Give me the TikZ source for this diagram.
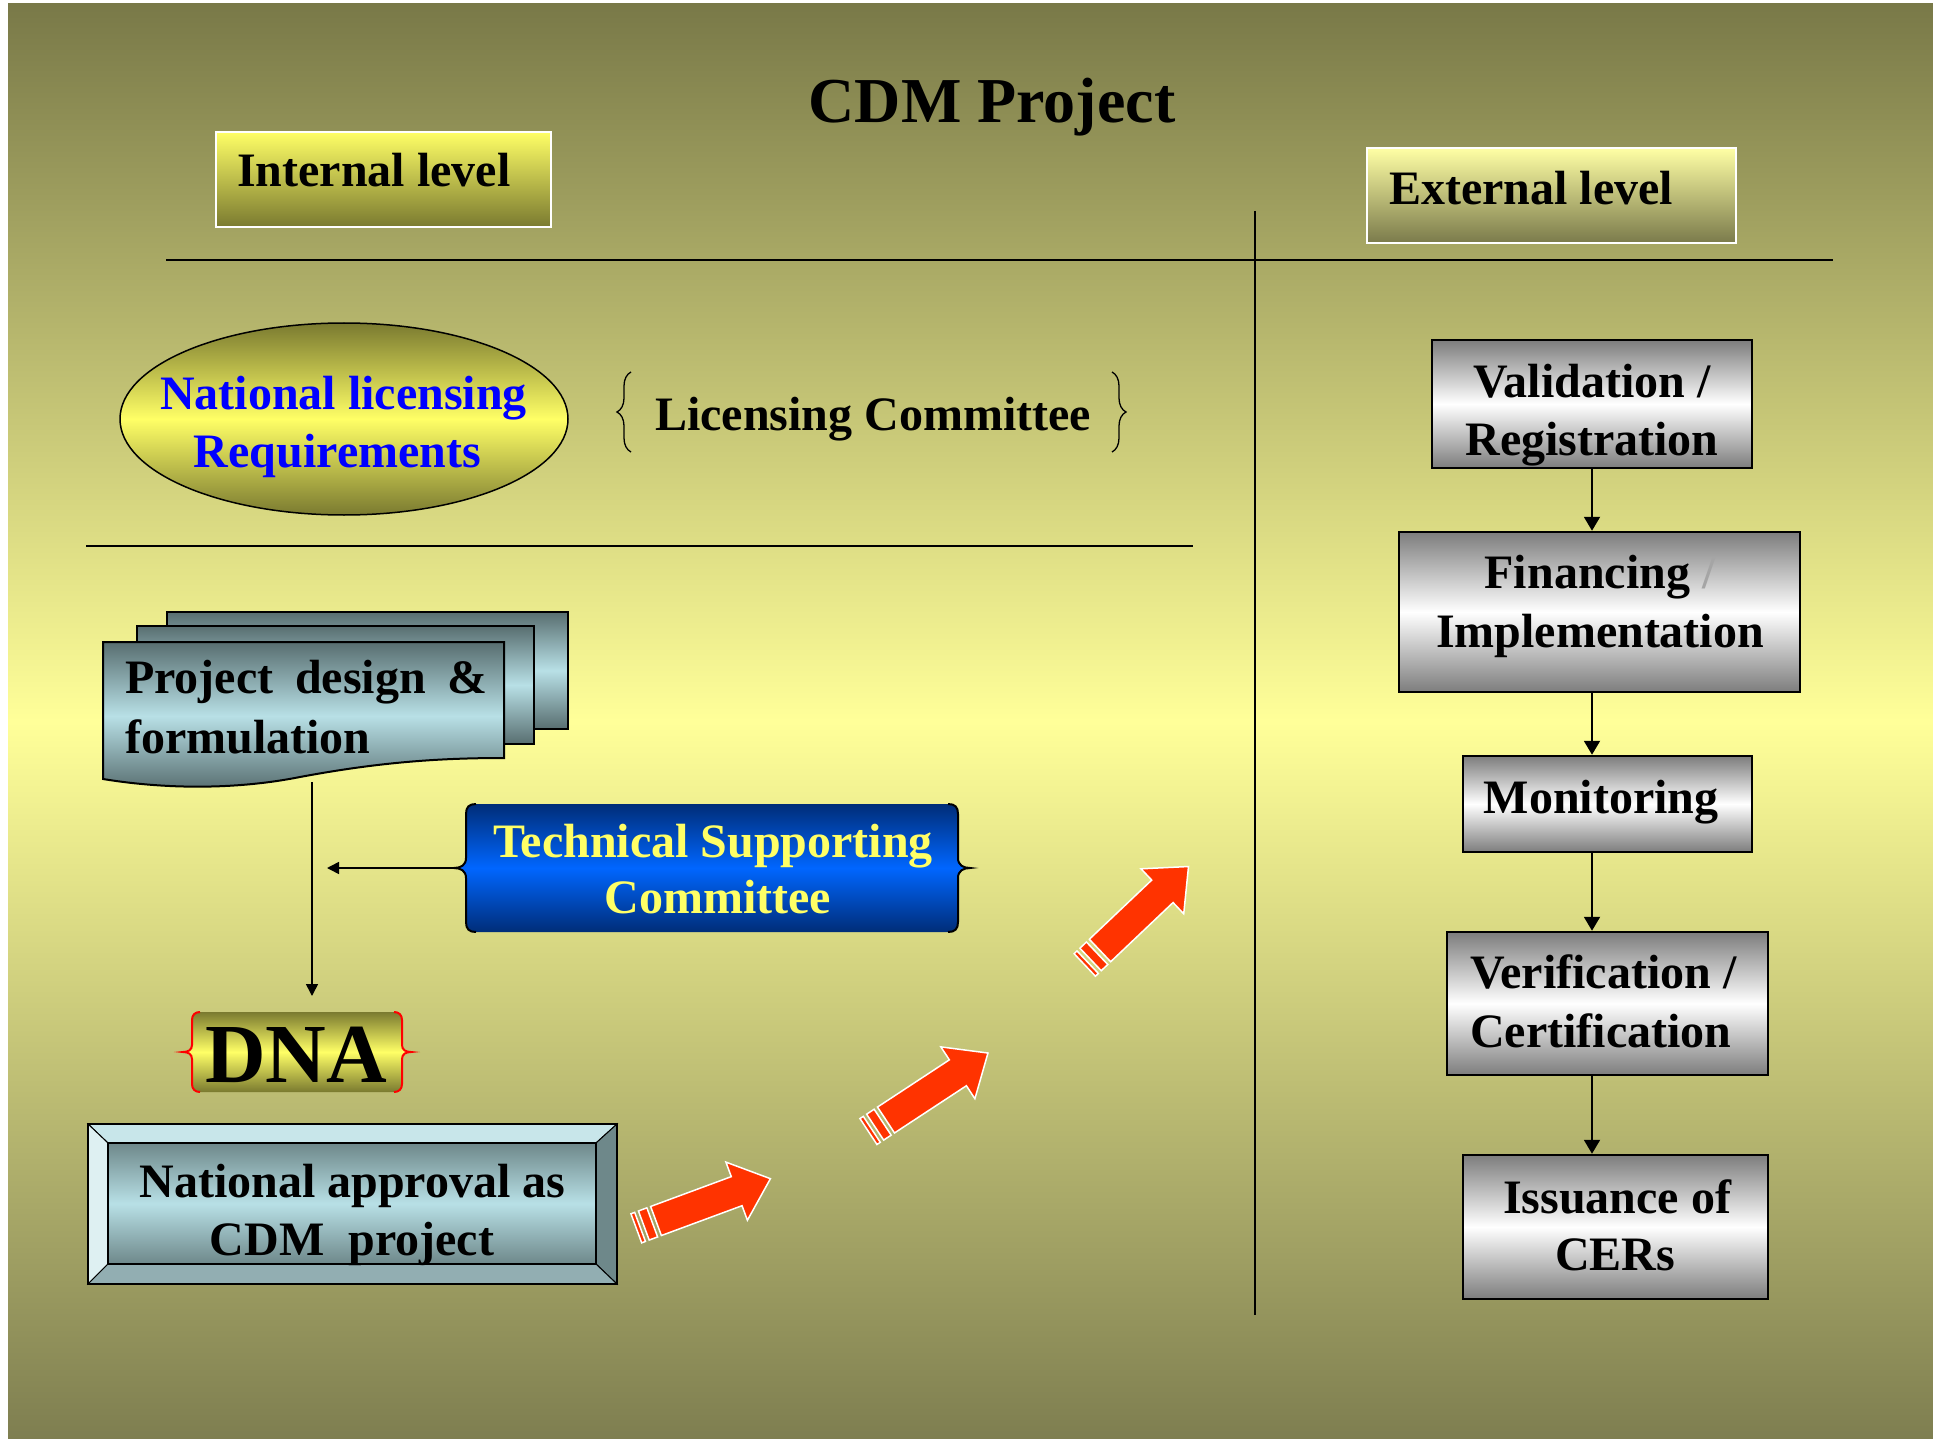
\documentclass[tikz,border=0pt]{standalone}
\usepackage{fontspec}
\setmainfont{Liberation Serif}
\usetikzlibrary{arrows.meta,decorations.pathreplacing,shapes.geometric}

\definecolor{bgtop}{RGB}{121,121,72}
\definecolor{bgmid}{RGB}{255,255,153}
\definecolor{bgbot}{RGB}{126,126,80}
\definecolor{intTop}{RGB}{255,255,102}
\definecolor{intBot}{RGB}{122,122,48}
\definecolor{extTop}{RGB}{255,255,165}
\definecolor{extBot}{RGB}{122,122,75}
\definecolor{olv}{RGB}{122,122,48}
\definecolor{ylw}{RGB}{255,255,102}
\definecolor{slateD}{RGB}{88,110,112}
\definecolor{slateL}{RGB}{184,224,230}
\definecolor{navy}{RGB}{0,45,120}
\definecolor{blu}{RGB}{0,102,255}
\definecolor{tscText}{RGB}{255,255,102}
\definecolor{gtop}{RGB}{125,125,125}
\definecolor{redarr}{RGB}{255,51,0}
\definecolor{bvTop}{RGB}{200,230,234}
\definecolor{bvLeft}{RGB}{222,240,242}
\definecolor{bvRight}{RGB}{110,136,138}
\definecolor{bvBot}{RGB}{146,174,178}
\definecolor{bluetext}{RGB}{0,0,255}
\definecolor{slashgray}{RGB}{165,165,165}

\newcommand\redarrow[3]{%
  \begin{scope}[shift={(#1,#2)}, rotate=#3]
    \filldraw[rarrow] (0,-15.5) -- (86,-15.5) -- (86,-31) -- (122,0) -- (86,31) -- (86,15.5) -- (0,15.5) -- cycle;
    \filldraw[rarrow] (-13,-15.5) rectangle (-4,15.5);
    \filldraw[rarrow] (-21,-15.5) rectangle (-17,15.5);
  \end{scope}}

\begin{document}
\begin{tikzpicture}[x=1pt,y=-1pt,
  lbl/.style={font=\fontsize{48}{58}\selectfont\bfseries, inner sep=0pt, anchor=base},
  conn/.style={line width=2pt, -{Triangle[length=14pt,width=16pt]}},
  connsm/.style={line width=1.6pt, -{Triangle[length=12pt,width=12pt]}},
  gbox/.style={draw=black, line width=2.5pt, top color=gtop, bottom color=gtop, middle color=white, inner sep=0pt},
  rarrow/.style={fill=redarr, draw=white, line width=1.5pt, line join=miter},
  sheet/.style={draw=black, line width=2pt, top color=slateD, bottom color=slateD, middle color=slateL},
  bevel/.style={draw=black, line width=1pt, line join=miter}
]
\useasboundingbox (0,0) rectangle (1933,1439);
\fill[white] (0,0) rectangle (1933,1439);
\shade[top color=bgtop, bottom color=bgbot, middle color=bgmid] (8,4) rectangle (1933,1439);

% title
\node[font=\fontsize{64}{76}\selectfont\bfseries, inner sep=0pt, anchor=base] (title) at (992,123) {CDM Project};

% level boxes
\node[draw=white, line width=2.5pt, top color=intTop, bottom color=intBot, minimum width=335pt, minimum height=95pt, inner sep=0pt] (intbox) at (383.5,179.5) {};
\node[lbl, anchor=base west] (inttxt) at (237,187) {Internal level};
\node[draw=white, line width=2.5pt, top color=extTop, bottom color=extBot, minimum width=369pt, minimum height=95pt, inner sep=0pt] (extbox) at (1551.5,195.5) {};
\node[lbl, anchor=base west] (exttxt) at (1389,205) {External level};

% divider lines
\draw[line width=2pt] (166,260) -- (1833,260);
\draw[line width=1.5pt] (1255,211) -- (1255,1315);
\draw[line width=1.5pt] (86,546) -- (1193,546);

% national licensing ellipse
\node[ellipse, draw=black, line width=1.5pt, minimum width=448pt, minimum height=192pt, top color=olv, bottom color=olv, middle color=ylw, inner sep=0pt] (nlr) at (344,419) {};
\node[lbl, text=bluetext] (nlr1) at (343.5,409) {National licensing};
\node[lbl, text=bluetext] (nlr2) at (337.5,467) {Requirements};

% licensing committee with braces
\node[lbl, anchor=base west] (lc) at (655,430) {Licensing Committee};
\draw[decorate, decoration={brace, amplitude=14pt}, line width=1.3pt] (631,452) -- (631,372);
\draw[decorate, decoration={brace, amplitude=14pt}, line width=1.3pt] (1112,372) -- (1112,452);

% connectors on the left
\coordinate (pdfoot) at (312,782);
\coordinate (dnahead) at (312,996);
\draw[connsm] (pdfoot) -- (dnahead);
\coordinate (tscL) at (454,868);
\coordinate (tscjoin) at (327,868);
\draw[connsm] (tscL) -- (tscjoin);

% project design stacked sheets
\shadedraw[sheet] (167,612) rectangle (568,729);
\shadedraw[sheet] (137,626) rectangle (534,744);
\shadedraw[sheet] (103,642) -- (504,642) -- (504,758)
   .. controls (440,758) and (380,762) .. (300,777)
   .. controls (240,789) and (170,790) .. (103,779) -- cycle;
\node[lbl, anchor=base west] (pd1) at (125,693) {\makebox[362pt][s]{Project design \&}};
\node[lbl, anchor=base west] (pd2) at (125,753) {formulation};

% technical supporting committee
\shade[top color=navy, bottom color=navy, middle color=blu]
  (476,804) .. controls (469,804) and (466,807) .. (466,814) -- (466,858)
  .. controls (466,865) and (461,868) .. (454,868)
  .. controls (461,868) and (466,871) .. (466,878) -- (466,922)
  .. controls (466,929) and (469,932) .. (476,932) -- (948,932)
  .. controls (955,932) and (958,929) .. (958,922) -- (958,878)
  .. controls (958,871) and (963,868) .. (970,868)
  .. controls (963,868) and (958,865) .. (958,858) -- (958,814)
  .. controls (958,807) and (955,804) .. (948,804) -- cycle;
\draw[line width=2pt]
  (476,804) .. controls (469,804) and (466,807) .. (466,814) -- (466,858)
  .. controls (466,865) and (461,868) .. (454,868)
  .. controls (461,868) and (466,871) .. (466,878) -- (466,922)
  .. controls (466,929) and (469,932) .. (476,932);
\draw[line width=2pt]
  (948,804) .. controls (955,804) and (958,807) .. (958,814) -- (958,858)
  .. controls (958,865) and (963,868) .. (970,868)
  .. controls (963,868) and (958,871) .. (958,878) -- (958,922)
  .. controls (958,929) and (955,932) .. (948,932);
\node[lbl, text=tscText] (tsc1) at (713,857) {Technical Supporting};
\node[lbl, text=tscText] (tsc2) at (718,913) {Committee};

% DNA
\shade[top color=olv, bottom color=olv, middle color=ylw]
  (200,1012) .. controls (195,1012) and (192,1015) .. (192,1020) -- (192,1045)
  .. controls (192,1050) and (188,1052) .. (183,1052)
  .. controls (188,1052) and (192,1054) .. (192,1059) -- (192,1084)
  .. controls (192,1089) and (195,1092) .. (200,1092) -- (394,1092)
  .. controls (399,1092) and (402,1089) .. (402,1084) -- (402,1059)
  .. controls (402,1054) and (406,1052) .. (411,1052)
  .. controls (406,1052) and (402,1050) .. (402,1045) -- (402,1020)
  .. controls (402,1015) and (399,1012) .. (394,1012) -- cycle;
\draw[red, line width=2pt]
  (200,1012) .. controls (195,1012) and (192,1015) .. (192,1020) -- (192,1045)
  .. controls (192,1050) and (188,1052) .. (183,1052)
  .. controls (188,1052) and (192,1054) .. (192,1059) -- (192,1084)
  .. controls (192,1089) and (195,1092) .. (200,1092);
\draw[red, line width=2pt]
  (394,1012) .. controls (399,1012) and (402,1015) .. (402,1020) -- (402,1045)
  .. controls (402,1050) and (406,1052) .. (411,1052)
  .. controls (406,1052) and (402,1054) .. (402,1059) -- (402,1084)
  .. controls (402,1089) and (399,1092) .. (394,1092);
\node[font=\fontsize{84}{100}\selectfont\bfseries, inner sep=0pt, anchor=base] (dna) at (296,1082) {DNA};

% national approval bevel box
\filldraw[bevel, fill=bvTop] (88,1124) -- (617,1124) -- (596,1143) -- (108,1143) -- cycle;
\filldraw[bevel, fill=bvLeft] (88,1124) -- (108,1143) -- (108,1264) -- (88,1284) -- cycle;
\filldraw[bevel, fill=bvRight] (617,1124) -- (617,1284) -- (596,1264) -- (596,1143) -- cycle;
\filldraw[bevel, fill=bvBot] (88,1284) -- (617,1284) -- (596,1264) -- (108,1264) -- cycle;
\shadedraw[top color=bvRight, bottom color=bvRight, middle color=slateL, draw=black, line width=2pt] (108,1143) rectangle (596,1264);
\draw[line width=2.5pt] (88,1124) rectangle (617,1284);
\node[lbl] (na1) at (352.5,1197) {National approval as};
\node[lbl] (na2) at (352,1255) {CDM~~project};

% red arrows
\redarrow{656}{1221}{20.3}
\redarrow{886}{1120}{33.3}
\redarrow{1100}{950.5}{43.5}

% external level boxes
\node[gbox, minimum width=320pt, minimum height=128pt] (val) at (1592,404) {};
\node[gbox, minimum width=401pt, minimum height=160pt] (fin) at (1599.5,612) {};
\node[gbox, minimum width=289pt, minimum height=96pt] (mon) at (1607.5,804) {};
\node[gbox, minimum width=321pt, minimum height=143pt] (ver) at (1607.5,1003.5) {};
\node[gbox, minimum width=305pt, minimum height=144pt] (iss) at (1615.5,1227) {};

\node[lbl] (val1) at (1592,397) {Validation /};
\node[lbl] (val2) at (1592,455) {Registration};
\node[lbl] (fin1) at (1600,588) {Financing {\color{slashgray}/}};
\node[lbl] (fin2) at (1600,647) {Implementation};
\node[lbl] (mon1) at (1601,813) {Monitoring};
\node[lbl, anchor=base west] (ver1) at (1470,988.5) {Verification /};
\node[lbl, anchor=base west] (ver2) at (1470,1047) {Certification};
\node[lbl] (iss1) at (1617,1213) {Issuance of};
\node[lbl] (iss2) at (1615,1270) {CERs};

\draw[conn] (val.south) -- (val.south |- fin.north);
\draw[conn] (val.south |- fin.south) -- (val.south |- mon.north);
\draw[conn] (val.south |- mon.south) -- (val.south |- ver.north);
\draw[conn] (val.south |- ver.south) -- (val.south |- iss.north);
\end{tikzpicture}
\end{document}
